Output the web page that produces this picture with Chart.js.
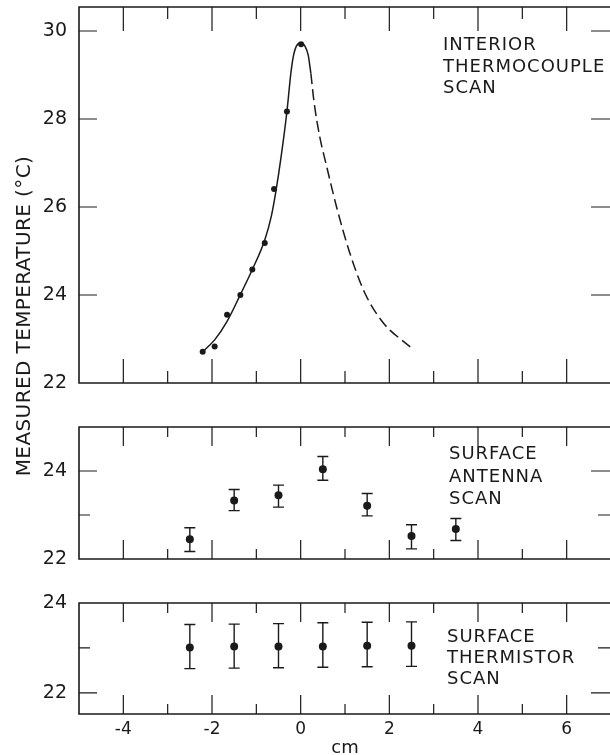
<!DOCTYPE html>
<html><head><meta charset="utf-8">
<script src="https://cdn.jsdelivr.net/npm/chart.js@4"></script>
<style>
html,body{margin:0;padding:0;background:#fff;overflow:hidden;width:610px;height:755px;}
#wrap{position:relative;width:610px;height:755px;overflow:hidden;background:#fff;}
canvas{position:absolute;left:0;top:0;}
.note{position:absolute;font-family:"DejaVu Sans";font-size:18px;color:#1a1a1a;letter-spacing:1px;white-space:nowrap;}
#ytitle{position:absolute;left:-177px;top:304px;width:400px;height:24px;line-height:24px;text-align:center;font-family:"DejaVu Sans";font-size:20px;letter-spacing:0.4px;color:#1a1a1a;white-space:nowrap;transform:rotate(-90deg);transform-origin:center center;}
</style></head><body>
<div id="wrap">
<canvas id="c1" width="620" height="760"></canvas>
<canvas id="c2" width="620" height="760"></canvas>
<canvas id="c3" width="620" height="760"></canvas>
<div class="note" style="left:443px;top:33px;line-height:21.5px">INTERIOR<br>THERMOCOUPLE<br>SCAN</div>
<div class="note" style="left:449px;top:442px;line-height:22.5px">SURFACE<br>ANTENNA<br>SCAN</div>
<div class="note" style="left:447px;top:625px;line-height:21px">SURFACE<br>THERMISTOR<br>SCAN</div>
<div id="ytitle">MEASURED TEMPERATURE (°C)</div>
</div>
<script>
// ---- data ----
const xLabelTicks = [-4, -2, 0, 2, 4, 6];
const xMinorTicks = [-3, -1, 1, 3, 5];

// Interior thermocouple scan
const topDotX = [-2.21, -1.94, -1.66, -1.36, -1.09, -0.81, -0.60, -0.31, 0.01];
const topDotY = [22.71, 22.83, 23.55, 24.00, 24.58, 25.18, 26.41, 28.17, 29.70];
const topSolidX = [-2.21, -1.94, -1.66, -1.36, -1.09, -0.81, -0.66, -0.56, -0.44, -0.31, -0.22, -0.16, -0.10, 0.00, 0.10, 0.17, 0.23];
const topSolidY = [22.71, 22.98, 23.40, 24.01, 24.58, 25.25, 25.80, 26.35, 27.15, 28.17, 29.05, 29.45, 29.65, 29.73, 29.65, 29.45, 29.04];
const topDashX = [0.23, 0.30, 0.43, 0.58, 0.81, 1.11, 1.45, 1.87, 2.47];
const topDashY = [29.04, 28.40, 27.60, 26.95, 26.00, 24.95, 24.04, 23.36, 22.82];
const topYTicks = [22, 24, 26, 28, 30];

// Surface antenna scan
const antX = [-2.5, -1.5, -0.5, 0.5, 1.5, 2.5, 3.5];
const antY = [22.45, 23.33, 23.45, 24.04, 23.21, 22.52, 22.68];
const antLo = [22.17, 23.10, 23.18, 23.79, 22.98, 22.23, 22.42];
const antHi = [22.71, 23.58, 23.68, 24.33, 23.49, 22.78, 22.92];
const midYTicks = [22, 24];
const midYMinor = [23];

// Surface thermistor scan
const thX = [-2.5, -1.5, -0.5, 0.5, 1.5, 2.5];
const thY = [23.01, 23.03, 23.03, 23.03, 23.05, 23.05];
const thLo = [22.54, 22.55, 22.56, 22.57, 22.58, 22.59];
const thHi = [23.52, 23.53, 23.54, 23.56, 23.57, 23.58];
const botYTicks = [22, 24];
const botYMinor = [23];

// ---- drawing ----
const INK = '#1a1a1a';
const FONT = 'DejaVu Sans';
const pts = (xs, ys) => xs.map((x, i) => ({x, y: ys[i]}));

const framePlugin = {
  id: 'frame',
  beforeDatasetsDraw(chart) {
    const {ctx, scales: {x, y}} = chart;
    ctx.save();
    ctx.strokeStyle = INK;
    ctx.lineWidth = 1.4;
    chart.data.datasets.forEach(ds => {
      if (!ds.errLo) return;
      ds.data.forEach((p, i) => {
        const px = x.getPixelForValue(p.x);
        const y1 = y.getPixelForValue(ds.errLo[i]);
        const y2 = y.getPixelForValue(ds.errHi[i]);
        ctx.beginPath();
        ctx.moveTo(px, y1); ctx.lineTo(px, y2);
        ctx.moveTo(px - 5.5, y1); ctx.lineTo(px + 5.5, y1);
        ctx.moveTo(px - 5.5, y2); ctx.lineTo(px + 5.5, y2);
        ctx.stroke();
      });
    });
    ctx.restore();
  },
  afterDatasetsDraw(chart, args, o) {
    const {ctx, chartArea: a, scales: {x, y}} = chart;
    ctx.save();
    ctx.strokeStyle = INK;
    ctx.lineWidth = 1.6;
    ctx.beginPath();
    ctx.moveTo(a.right + 6, a.top); ctx.lineTo(a.left, a.top);
    ctx.lineTo(a.left, a.bottom); ctx.lineTo(a.right + 6, a.bottom);
    ctx.stroke();
    ctx.lineWidth = 1.2;
    const vt = (vals, len) => vals.forEach(v => {
      const px = x.getPixelForValue(v);
      ctx.beginPath();
      ctx.moveTo(px, a.top); ctx.lineTo(px, a.top + len);
      ctx.moveTo(px, a.bottom); ctx.lineTo(px, a.bottom - len);
      ctx.stroke();
    });
    const ht = (vals, len) => vals.forEach(v => {
      const py = y.getPixelForValue(v);
      if (py <= a.top + 1 || py >= a.bottom - 1) return;
      ctx.beginPath();
      ctx.moveTo(a.left, py); ctx.lineTo(a.left + len, py);
      ctx.moveTo(a.right, py); ctx.lineTo(a.right - len - 2, py);
      ctx.stroke();
    });
    vt(xLabelTicks, o.xMajLen);
    vt(xMinorTicks, o.xMinLen);
    ht(o.yMaj, 18);
    ht(o.yMin, 11);
    ctx.restore();
  }
};

function yScale(min, max, ticks) {
  return {
    type: 'linear', min, max, position: 'left',
    afterBuildTicks: s => { s.ticks = ticks.map(v => ({value: v})); },
    grid: {display: false, drawTicks: false},
    border: {display: false},
    ticks: {font: {family: FONT, size: 19}, color: INK, padding: 12, autoSkip: false},
    afterFit: s => { s.width = 79; s.paddingTop = 0; s.paddingBottom = 0; }
  };
}
function xHidden() {
  return {type: 'linear', min: -5, max: 7, display: false};
}

function makeChart(id, datasets, y, x, padTop, padBottom, frameOpts) {
  return new Chart(document.getElementById(id), {
    type: 'scatter',
    data: {datasets},
    options: {
      responsive: false, animation: false, events: [],
      layout: {padding: {left: 0, right: 9, top: padTop, bottom: padBottom}},
      plugins: {legend: {display: false}, tooltip: {enabled: false}, frame: frameOpts},
      scales: {x, y}
    },
    plugins: [framePlugin]
  });
}

// top panel
makeChart('c1', [
  {data: pts(topSolidX, topSolidY), showLine: true, borderColor: INK, borderWidth: 1.5,
   pointRadius: 0, cubicInterpolationMode: 'monotone'},
  {data: pts(topDashX, topDashY), showLine: true, borderColor: INK, borderWidth: 1.5,
   borderDash: [11, 5], pointRadius: 0, cubicInterpolationMode: 'monotone'},
  {data: pts(topDotX, topDotY), showLine: false, pointRadius: 3, pointBackgroundColor: INK,
   pointBorderWidth: 0}
], yScale(22, 30.545, topYTicks), xHidden(), 7, 377,
  {xMajLen: 24, xMinLen: 12, yMaj: topYTicks, yMin: []});

// middle panel
makeChart('c2', [
  {data: pts(antX, antY), showLine: false, pointRadius: 4, pointBackgroundColor: INK,
   pointBorderWidth: 0, errLo: antLo, errHi: antHi}
], yScale(22, 25, midYTicks), xHidden(), 427, 201,
  {xMajLen: 19, xMinLen: 10, yMaj: midYTicks, yMin: midYMinor});

// bottom panel
makeChart('c3', [
  {data: pts(thX, thY), showLine: false, pointRadius: 4, pointBackgroundColor: INK,
   pointBorderWidth: 0, errLo: thLo, errHi: thHi}
], yScale(21.53, 24, botYTicks), {
  type: 'linear', min: -5, max: 7, position: 'bottom',
  afterBuildTicks: s => { s.ticks = xLabelTicks.map(v => ({value: v})); },
  grid: {display: false, drawTicks: false},
  border: {display: false},
  ticks: {font: {family: FONT, size: 17}, color: INK, padding: 5, maxRotation: 0, autoSkip: false},
  title: {display: true, text: 'cm', font: {family: FONT, size: 18}, color: INK, padding: {top: 0, bottom: 1}},
  afterFit: s => { s.height = 46; s.paddingLeft = 0; s.paddingRight = 0; }
}, 603, 0, {xMajLen: 19, xMinLen: 10, yMaj: botYTicks, yMin: botYMinor});
</script>
</body></html>
